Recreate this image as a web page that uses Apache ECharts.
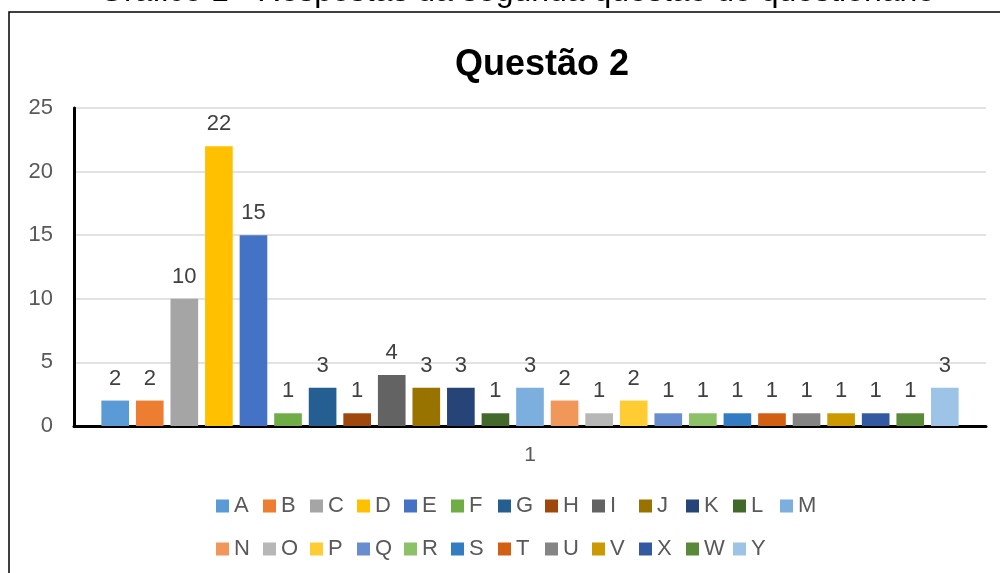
<!DOCTYPE html>
<html lang="pt">
<head>
    <meta charset="UTF-8">
    <script type="text/javascript" src="https://cdn.jsdelivr.net/npm/echarts@6/dist/echarts.min.js"></script>
    <style>
        html, body { margin: 0; padding: 0; background: #fff; }
        #chart { width: 1000px; height: 573px; }
    </style>
</head>
<body>
    <div id="chart"></div>
<script>
    // dados do gráfico
    var categorias = ['1'];
    var respostas = ['A', 'B', 'C', 'D', 'E', 'F', 'G', 'H', 'I', 'J', 'K', 'L', 'M',
                     'N', 'O', 'P', 'Q', 'R', 'S', 'T', 'U', 'V', 'X', 'W', 'Y'];
    var valores = [2, 2, 10, 22, 15, 1, 3, 1, 4, 3, 3, 1, 3,
                   2, 1, 2, 1, 1, 1, 1, 1, 1, 1, 1, 3];
    var cores = ['#5B9BD5', '#ED7D31', '#A5A5A5', '#FFC000', '#4472C4', '#70AD47', '#255E91',
                 '#9E480E', '#636363', '#997300', '#264478', '#43682B', '#7CAFDD',
                 '#F1975A', '#B7B7B7', '#FFCD33', '#698ED0', '#8CC168', '#327DC2',
                 '#D26012', '#848484', '#CC9A00', '#335AA1', '#5A8A39', '#9DC3E6'];
    var ticksY = [0, 5, 10, 15, 20, 25];

    var fonte = 'Liberation Sans, Arial, sans-serif';

    var series = [];
    for (var i = 0; i < respostas.length; i++) {
        series.push({
            name: respostas[i],
            type: 'bar',
            data: [valores[i]],
            barGap: '25%',
            barCategoryGap: '6%',
            itemStyle: { color: cores[i] },
            label: {
                show: true,
                position: 'top',
                distance: 11,
                fontSize: 22,
                fontFamily: fonte,
                color: '#404040'
            }
        });
    }

    // legenda: cada item numa posição fixa (13 por linha, passo de 47px)
    var legendas = [];
    for (var k = 0; k < respostas.length; k++) {
        var linha = k < 13 ? 0 : 1;
        var coluna = k < 13 ? k : k - 13;
        legendas.push({
            orient: 'horizontal',
            left: 211 + coluna * 47,
            top: 490 + linha * 43,
            itemWidth: 13,
            itemHeight: 13,
            icon: 'rect',
            data: [respostas[k]],
            textStyle: {
                fontFamily: fonte,
                fontSize: 22,
                color: '#595959'
            }
        });
    }

    var option = {
        animation: false,
        backgroundColor: '#fff',
        color: cores,
        graphic: [
            {
                type: 'text',
                left: 99,
                top: -24,
                style: {
                    text: 'Gráfico 1 - Respostas da segunda questão do questionário',
                    font: '32px ' + fonte,
                    fill: '#000'
                }
            },
            {
                type: 'polyline',
                shape: { points: [[9, 573], [9, 12], [1000, 12]] },
                style: { stroke: '#000', lineWidth: 1.5, fill: null }
            }
        ],
        title: {
            text: 'Questão 2',
            left: 537,
            textAlign: 'center',
            top: 42,
            textStyle: {
                fontFamily: fonte,
                fontSize: 36,
                fontWeight: 'bold',
                color: '#000'
            }
        },
        legend: legendas,
        grid: {
            left: 74,
            right: 14,
            top: 108,
            bottom: 147,
            containLabel: false
        },
        xAxis: {
            type: 'category',
            data: categorias,
            axisTick: { show: false },
            axisLine: { lineStyle: { color: '#000', width: 3 } },
            axisLabel: {
                margin: 19,
                fontSize: 21,
                fontFamily: fonte,
                color: '#595959'
            }
        },
        yAxis: {
            type: 'value',
            min: ticksY[0],
            max: ticksY[ticksY.length - 1],
            interval: 5,
            axisLine: { show: true, lineStyle: { color: '#000', width: 3 } },
            axisTick: { show: false },
            splitLine: { lineStyle: { color: '#D9D9D9', width: 1.5 } },
            axisLabel: {
                margin: 21,
                fontSize: 22,
                fontFamily: fonte,
                color: '#595959'
            }
        },
        series: series
    };

    var grafico = echarts.init(document.getElementById('chart'));
    grafico.setOption(option);
</script>
</body>
</html>
